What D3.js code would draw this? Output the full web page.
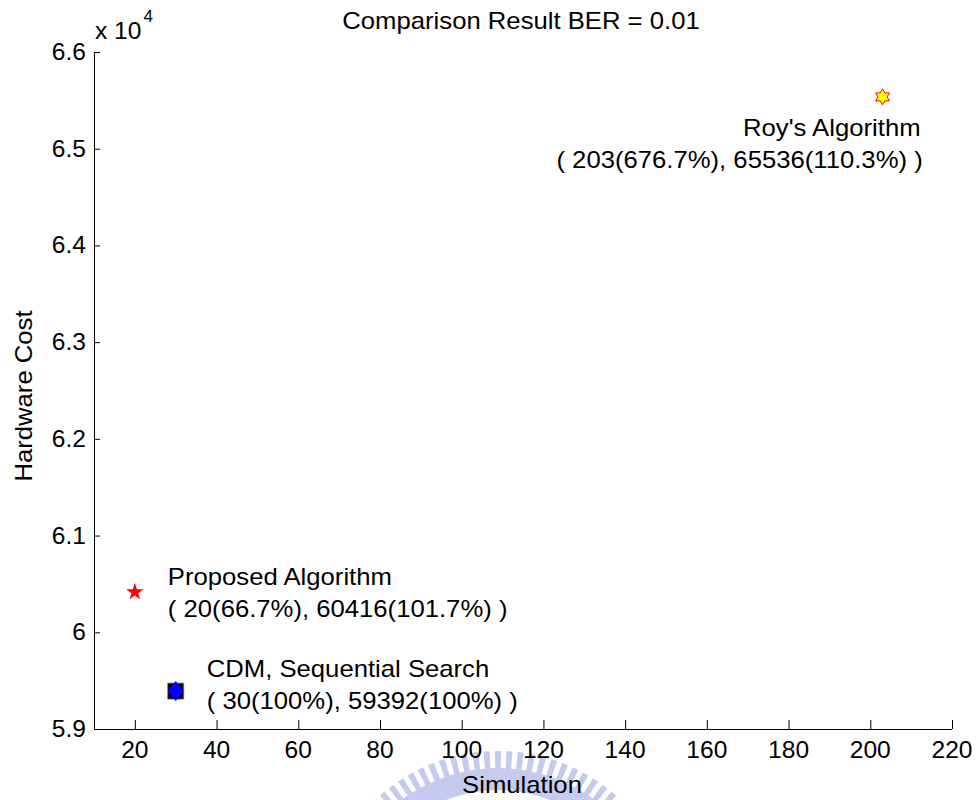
<!DOCTYPE html>
<html>
<head>
<meta charset="utf-8">
<script src="https://cdn.jsdelivr.net/npm/d3@7"></script>
<style>
  body { margin: 0; background: #fff; }
  svg text { font-family: Arial, "Liberation Sans", Helvetica, sans-serif; fill: #000; }
</style>
</head>
<body>
<svg id="chart"></svg>
<script>
    const svg_width = 979;
    const svg_height = 800;

    // data
    var names = ["Roy's Algorithm", "Proposed Algorithm", "CDM, Sequential Search"];
    var details = ["( 203(676.7%), 65536(110.3%) )", "( 20(66.7%), 60416(101.7%) )", "( 30(100%), 59392(100%) )"];
    var simulation = [203, 20, 30];
    var hardware_cost = [65536, 60416, 59392];

    var x_ticks = [20, 40, 60, 80, 100, 120, 140, 160, 180, 200, 220];
    var y_ticks = [59000, 60000, 61000, 62000, 63000, 64000, 65000, 66000];

    var plot = { left: 94, right: 952, top: 52, bottom: 729 };
    var stretch = 1.07;   // the reference text is a bit wider than Arial

    var svg = d3.select("svg#chart")
        .attr("width", svg_width)
        .attr("height", svg_height);

    var x = d3.scaleLinear().domain([10, 220]).range([plot.left, plot.right]);
    var y = d3.scaleLinear().domain([59000, 66000]).range([plot.bottom, plot.top]);

    draw_watermark();

    // axes: only left and bottom, ticks pointing inward
    var xAxis = d3.axisTop(x)
        .tickValues(x_ticks)
        .tickSize(9)
        .tickFormat("");

    var yAxis = d3.axisRight(y)
        .tickValues(y_ticks)
        .tickSize(6)
        .tickFormat("");

    var gx = svg.append("g")
        .attr("transform", "translate(0," + plot.bottom + ")")
        .call(xAxis);
    gx.select(".domain").attr("d", "M" + plot.left + ",0.5H" + plot.right);

    var gy = svg.append("g")
        .attr("transform", "translate(" + plot.left + ",0)")
        .call(yAxis);
    gy.select(".domain").attr("d", "M0.5," + plot.top + "V" + plot.bottom);

    svg.selectAll(".domain, .tick line").attr("stroke", "#000").attr("stroke-width", 1);

    svg.append("g").selectAll("text")
        .data(x_ticks)
        .enter()
        .append("text")
        .attr("transform", d => translate(x(d), 758) + " scale(" + stretch + ",1)")
        .attr("text-anchor", "middle")
        .style("font-size", "23px")
        .text(d => d);

    svg.append("g").selectAll("text")
        .data(y_ticks)
        .enter()
        .append("text")
        .attr("transform", d => translate(86, y(d) + 8) + " scale(" + stretch + ",1)")
        .attr("text-anchor", "end")
        .style("font-size", "23px")
        .text(d => d3.format(".2~g")(d / 10000));

    // exponent
    var ex = svg.append("text")
        .attr("transform", translate(95, 39) + " scale(" + stretch + ",1)")
        .style("font-size", "23px");
    ex.append("tspan").text("x 10");
    ex.append("tspan")
        .attr("dy", -17)
        .attr("dx", 2)
        .style("font-size", "16px")
        .text("4");

    // titles
    svg.append("text")
        .attr("transform", translate(521, 29) + " scale(" + stretch + ",1)")
        .attr("text-anchor", "middle")
        .style("font-size", "24px")
        .text("Comparison Result BER = 0.01");

    svg.append("text")
        .attr("transform", translate(522, 793) + " scale(" + stretch + ",1)")
        .attr("text-anchor", "middle")
        .style("font-size", "24px")
        .text("Simulation");

    svg.append("text")
        .attr("transform", "translate(32,396) rotate(-90) scale(" + stretch + ",1)")
        .attr("text-anchor", "middle")
        .style("font-size", "24px")
        .text("Hardware Cost");

    // markers
    var px = i => x(simulation[i]);
    var py = i => y(hardware_cost[i]);

    // Roy: hexagram, yellow with red edge
    svg.append("path")
        .attr("d", hexagram(8))
        .attr("transform", translate(px(0), py(0)))
        .attr("fill", "#ffff00")
        .attr("stroke", "#ff0000")
        .attr("stroke-width", 1);

    // Proposed: red pentagram
    svg.append("path")
        .attr("d", d3.symbol(d3.symbolStar, 95)())
        .attr("transform", translate(px(1), py(1)))
        .attr("fill", "#ff0000");

    // CDM: black square under a blue diamond
    svg.append("path")
        .attr("d", d3.symbol(d3.symbolSquare, 256)())
        .attr("transform", translate(px(2), py(2)))
        .attr("fill", "#000")
        .attr("stroke", "#777")
        .attr("stroke-width", 0.8);

    svg.append("path")
        .attr("d", "M0,-10L8,0L0,10L-8,0Z")
        .attr("transform", translate(px(2), py(2)))
        .attr("fill", "#0000ff");

    // labels
    var label_style = [
      { dx: 38, dy: 39, anchor: "end" },
      { dx: 33, dy: -7, anchor: "start" },
      { dx: 31, dy: -14, anchor: "start" }
    ];

    names.forEach((name, i) => {
      var s = label_style[i];
      var t = svg.append("text")
          .attr("transform", translate(px(i) + s.dx, py(i) + s.dy) + " scale(" + stretch + ",1)")
          .attr("text-anchor", s.anchor)
          .style("font-size", "24px");
      t.append("tspan")
          .attr("x", 0)
          .attr("y", 0)
          .text(name);
      t.append("tspan")
          .attr("x", s.anchor === "end" ? 2 : 0)
          .attr("y", 32)
          .text(details[i]);
    });

    function hexagram(r) {
      var pts = [];
      for (var k = 0; k < 12; k++) {
        var a = -Math.PI / 2 + k * Math.PI / 6;
        var rr = k % 2 === 0 ? r : r / Math.sqrt(3);
        pts.push([rr * Math.cos(a), rr * Math.sin(a)]);
      }
      return "M" + pts.map(p => p.join(",")).join("L") + "Z";
    }

    // faint gear watermark behind the x label
    function draw_watermark() {
      var g = svg.append("g")
          .attr("transform", translate(498, 930))
          .attr("opacity", 0.5);
      var arc = d3.arc();
      g.append("path")
          .attr("d", arc({ innerRadius: 140, outerRadius: 162, startAngle: -0.85, endAngle: 0.85 }))
          .attr("fill", "#8a98e0");
      var teeth = d3.range(-12, 13).map(k => k * 0.064);
      g.selectAll("path.tooth")
          .data(teeth)
          .enter()
          .append("path")
          .attr("class", "tooth")
          .attr("d", a => arc({ innerRadius: 158, outerRadius: 179, startAngle: a - 0.017, endAngle: a + 0.017 }))
          .attr("fill", "#8a98e0");
    }

    function translate(x, y) {
      return 'translate(' + String(x) + ',' + String(y) + ')';
    }
</script>
</body>
</html>
